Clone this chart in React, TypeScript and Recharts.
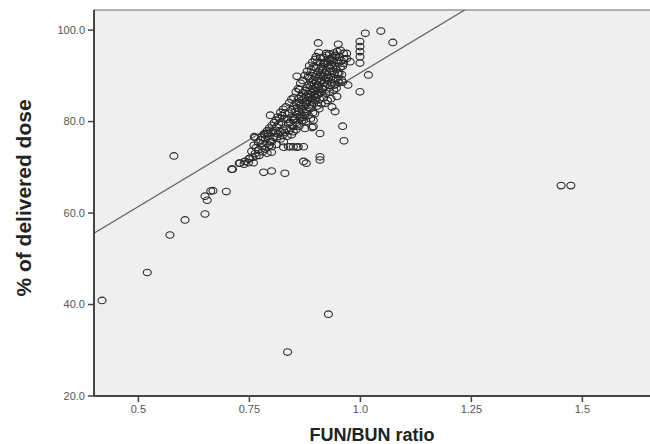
import React from 'react';
import { ScatterChart, Scatter, XAxis, YAxis, CartesianGrid, ReferenceLine, Label } from 'recharts';

// scattered points far from the main cluster
const tailPoints: [number, number][] = [
  [0.418, 40.9], [0.52, 47.0], [0.571, 55.2], [0.605, 58.5], [0.58, 72.5],
  [0.65, 59.8], [0.655, 62.8], [0.65, 63.7], [0.663, 64.8], [0.668, 64.9],
  [0.698, 64.7], [0.712, 69.6], [0.727, 70.9], [0.738, 70.7], [0.836, 29.6],
  [0.928, 37.9], [1.452, 66.0], [1.474, 66.0],
];

// lower part of the band
const lowerBand: [number, number][] = [
  [0.749, 71.8], [0.758, 72.2], [0.765, 72.5], [0.759, 71.0], [0.74, 71.3],
  [0.751, 72.0], [0.748, 71.0], [0.782, 68.9], [0.8, 69.2], [0.83, 68.7],
  [0.878, 70.9], [0.909, 72.3], [0.909, 71.6], [0.8, 73.3], [0.827, 74.4],
  [0.842, 74.5], [0.857, 74.4], [0.872, 74.5], [0.761, 76.7], [0.763, 76.5],
  [0.778, 76.6], [0.785, 77.1], [0.793, 77.4], [0.797, 81.4], [0.763, 73.0],
  [0.77, 73.8], [0.778, 74.5], [0.789, 75.2], [0.8, 74.5], [0.8, 75.6],
  [0.812, 76.7], [0.827, 75.6], [0.838, 74.5], [0.849, 74.5], [0.86, 74.5],
  [0.819, 77.8], [0.827, 78.1], [0.834, 78.5], [0.838, 79.6], [0.849, 80.3],
  [0.864, 80.7], [0.872, 71.3], [0.894, 78.9], [0.875, 78.5], [0.789, 77.4],
  [0.797, 75.6], [0.729, 70.9], [0.71, 69.6],
  [0.77, 75.5], [0.775, 76.0], [0.78, 75.2], [0.783, 77.3], [0.786, 76.2],
  [0.79, 78.0], [0.792, 76.8], [0.795, 78.6], [0.798, 77.6], [0.801, 79.2],
  [0.804, 78.0], [0.806, 79.8], [0.808, 77.5], [0.81, 80.3], [0.812, 78.8],
  [0.814, 81.0], [0.816, 79.4], [0.818, 80.7], [0.82, 82.0], [0.822, 79.9],
  [0.824, 81.3], [0.826, 82.7], [0.828, 80.6], [0.83, 81.9], [0.832, 83.2],
  [0.765, 74.3], [0.772, 72.6], [0.78, 73.4], [0.785, 74.0], [0.79, 73.1],
  [0.795, 74.8], [0.805, 76.6], [0.81, 75.0], [0.815, 77.3], [0.82, 76.2],
  [0.825, 77.0], [0.83, 77.6], [0.835, 76.8], [0.84, 78.0], [0.845, 77.1],
  [0.855, 78.2], [0.76, 74.8], [0.755, 73.5],
];

// dense core of the cluster
const corePoints: [number, number][] = [
  [0.835, 80.5], [0.84, 81.8], [0.842, 79.9], [0.845, 82.6], [0.848, 81.0],
  [0.85, 83.4], [0.852, 80.6], [0.853, 82.2], [0.855, 84.1], [0.857, 81.5],
  [0.858, 83.0], [0.86, 85.0], [0.861, 82.3], [0.862, 84.0], [0.864, 81.2],
  [0.865, 83.6], [0.866, 85.5], [0.868, 82.8], [0.869, 84.7], [0.87, 86.3],
  [0.871, 83.4], [0.873, 85.2], [0.874, 82.0], [0.875, 84.3], [0.876, 86.8],
  [0.877, 83.8], [0.878, 85.6], [0.88, 87.4], [0.881, 84.6], [0.882, 86.1],
  [0.883, 83.1], [0.884, 88.0], [0.885, 85.3], [0.886, 86.9], [0.887, 84.2],
  [0.888, 87.8], [0.889, 85.9], [0.89, 88.6], [0.891, 86.4], [0.892, 84.8],
  [0.893, 87.2], [0.894, 89.1], [0.895, 85.7], [0.896, 88.3], [0.897, 86.6],
  [0.898, 89.8], [0.899, 87.5], [0.9, 85.2], [0.901, 88.9], [0.902, 90.3],
  [0.903, 86.9], [0.904, 88.1], [0.905, 90.8], [0.906, 87.6], [0.907, 89.4],
  [0.908, 91.2], [0.909, 86.3], [0.91, 88.7], [0.911, 90.1], [0.912, 92.0],
  [0.913, 89.0], [0.914, 87.3], [0.915, 91.5], [0.916, 89.8], [0.917, 92.5],
  [0.918, 88.4], [0.92, 90.6], [0.921, 92.8], [0.922, 89.5], [0.923, 91.1],
  [0.925, 93.2], [0.926, 90.2], [0.927, 88.9], [0.928, 92.0], [0.93, 90.9],
  [0.931, 93.6], [0.932, 91.6], [0.934, 89.7], [0.935, 92.4], [0.936, 94.0],
  [0.938, 91.0], [0.939, 93.1], [0.941, 90.4], [0.942, 92.2], [0.944, 94.3],
  [0.945, 91.5], [0.947, 93.4], [0.949, 90.7], [0.95, 92.7], [0.953, 94.1],
  [0.955, 91.9], [0.957, 93.3], [0.96, 92.1], [0.963, 93.7],
  [0.86, 87.2], [0.865, 88.4], [0.87, 80.9], [0.875, 81.3], [0.88, 82.2],
  [0.885, 89.5], [0.888, 82.9], [0.89, 83.7], [0.893, 90.6], [0.895, 84.1],
  [0.898, 84.6], [0.9, 91.7], [0.902, 85.8], [0.905, 86.0], [0.908, 84.9],
  [0.91, 92.9], [0.912, 86.4], [0.915, 87.0], [0.918, 94.0], [0.92, 87.8],
  [0.922, 86.2], [0.925, 88.2], [0.928, 89.6], [0.93, 94.8], [0.932, 87.9],
  [0.935, 88.6], [0.938, 89.2], [0.94, 95.0], [0.942, 88.0], [0.945, 89.4],
  [0.948, 95.3], [0.95, 89.0], [0.952, 90.6], [0.955, 95.6], [0.958, 90.3],
  [0.96, 88.6], [0.87, 89.0], [0.875, 90.1], [0.88, 91.0], [0.883, 89.9],
  [0.885, 92.2], [0.889, 91.4], [0.892, 93.0], [0.895, 92.0], [0.898, 93.6],
  [0.9, 94.2], [0.903, 93.0], [0.906, 95.1], [0.91, 94.0], [0.855, 86.5],
  [0.85, 85.2], [0.845, 84.9], [0.848, 78.9], [0.855, 79.8], [0.862, 79.0],
  [0.868, 80.2], [0.878, 80.0], [0.883, 81.4], [0.888, 80.6], [0.893, 82.0],
  [0.897, 81.7], [0.903, 83.4], [0.907, 82.8], [0.912, 83.9], [0.917, 85.2],
  [0.921, 84.0], [0.93, 86.5], [0.934, 85.0], [0.94, 86.9], [0.946, 87.3],
  [0.952, 88.5], [0.958, 89.1],
];

// upper part and spread around the band
const upperPoints: [number, number][] = [
  [0.905, 97.2], [0.95, 96.9], [1.011, 99.3], [1.046, 99.8], [1.073, 97.3],
  [0.999, 97.5], [0.999, 96.4], [0.999, 95.3], [0.999, 94.2], [0.999, 92.8],
  [0.923, 94.9], [0.918, 92.9], [0.962, 94.9], [1.018, 90.2], [0.999, 86.5],
  [0.972, 88.0], [0.969, 94.9], [0.924, 94.5], [0.92, 92.7], [0.936, 93.4],
  [0.943, 94.5], [0.969, 93.8], [0.977, 93.1], [0.962, 92.7], [0.857, 89.9],
  [0.863, 87.0], [0.84, 84.1], [0.947, 85.5], [0.943, 82.2], [0.96, 79.0],
  [0.963, 75.8], [0.894, 80.3], [0.872, 80.3], [0.857, 79.3], [0.891, 78.7],
  [0.849, 77.8], [0.909, 77.4], [0.936, 83.2], [0.926, 84.6],
];

// regression line end points
const fitX = [0.4, 1.3];
const fitY = [55.6, 108.2];

const xTicks = [0.5, 0.75, 1.0, 1.25, 1.5];
const xTickLabels = ['0.5', '0.75', '1.0', '1.25', '1.5'];
const yTicks = [20, 40, 60, 80, 100];

const points = [...tailPoints, ...lowerBand, ...corePoints, ...upperPoints].map(([x, y]) => ({ x, y }));

const Ring = (props: any) => {
  const { cx, cy } = props;
  if (cx == null || cy == null) return null;
  return <ellipse cx={cx} cy={cy} rx={4} ry={3.3} fill="none" stroke="#2a2a2a" strokeWidth={1.1} />;
};

const tickStyle = { fill: '#555', fontSize: 11, fontFamily: 'Liberation Sans, Arial, sans-serif' };

const App: React.FC = () => {
  return (
    <div style={{ position: 'fixed', left: 0, top: 0, width: 650, height: 444, overflow: 'hidden', background: '#fff' }}>
      <ScatterChart width={672} height={444} margin={{ top: 10, right: 0.8, left: 0, bottom: 0 }}>
        <CartesianGrid horizontal={false} vertical={false} fill="#efefef" />
        <XAxis
          type="number"
          dataKey="x"
          domain={[0.4, 1.7]}
          ticks={xTicks}
          tickFormatter={(v: number) => xTickLabels[xTicks.indexOf(v)] ?? String(v)}
          tick={tickStyle}
          tickSize={6}
          tickMargin={3}
          height={48}
          axisLine={{ stroke: '#444', strokeWidth: 2 }}
          tickLine={{ stroke: '#444', strokeWidth: 1.5 }}
          allowDataOverflow
        >
          <Label
            content={(p: any) => {
              const vb = p.viewBox || { x: 94, width: 577 };
              return (
                <text
                  x={vb.x + 278}
                  y={441}
                  textAnchor="middle"
                  style={{ fontSize: 18, fontWeight: 700, fill: '#222', fontFamily: 'Liberation Sans, Arial, sans-serif' }}
                >
                  FUN/BUN ratio
                </text>
              );
            }}
          />
        </XAxis>
        <YAxis
          type="number"
          dataKey="y"
          domain={[20, 104.4]}
          ticks={yTicks}
          tickFormatter={(v: number) => v.toFixed(1)}
          tick={tickStyle}
          tickSize={6}
          tickMargin={3}
          width={94}
          axisLine={{ stroke: '#444', strokeWidth: 2 }}
          tickLine={{ stroke: '#444', strokeWidth: 1.5 }}
          allowDataOverflow
        >
          <Label
            content={(p: any) => {
              const vb = p.viewBox || { y: 10, height: 386 };
              const cy = vb.y + vb.height / 2 - 5;
              return (
                <text
                  x={31}
                  y={cy}
                  transform={`rotate(-90, 31, ${cy})`}
                  textAnchor="middle"
                  style={{ fontSize: 21, fontWeight: 700, fill: '#222', fontFamily: 'Liberation Sans, Arial, sans-serif' }}
                >
                  % of delivered dose
                </text>
              );
            }}
          />
        </YAxis>
        <ReferenceLine y={104.4} stroke="#999" strokeWidth={1.5} ifOverflow="extendDomain" />
        <ReferenceLine
          segment={[{ x: fitX[0], y: fitY[0] }, { x: fitX[1], y: fitY[1] }]}
          stroke="#666"
          strokeWidth={1.3}
          ifOverflow="hidden"
        />
        <Scatter data={points} shape={Ring} isAnimationActive={false} />
      </ScatterChart>
    </div>
  );
};

export default App;
